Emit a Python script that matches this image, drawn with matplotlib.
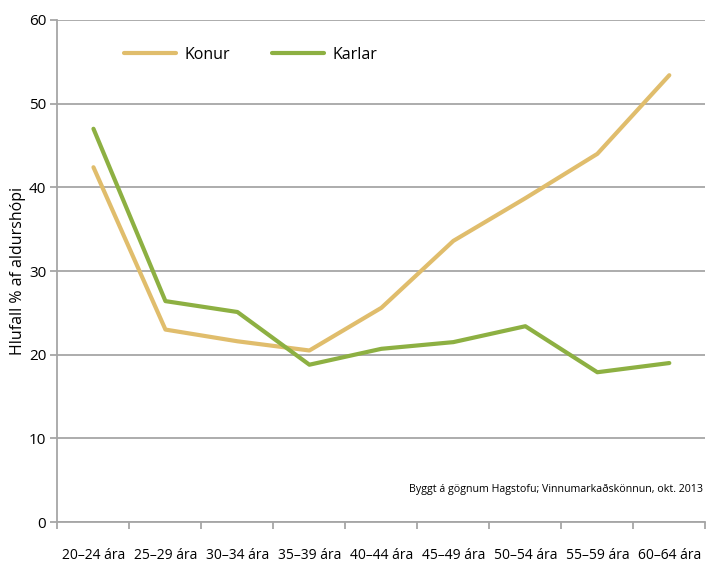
import matplotlib.pyplot as plt
import numpy as np

plt.rcParams['font.family'] = ['Open Sans', 'DejaVu Sans']

categories = ['20–24 ára', '25–29 ára', '30–34 ára', '35–39 ára', '40–44 ára',
              '45–49 ára', '50–54 ára', '55–59 ára', '60–64 ára']
konur = [42.4, 23.0, 21.6, 20.5, 25.6, 33.6, 38.7, 44.0, 53.4]
karlar = [47.0, 26.4, 25.1, 18.8, 20.7, 21.5, 23.4, 17.9, 19.0]

grid_col = '#a6a6a6'
fig = plt.figure(figsize=(7.06, 5.63), dpi=100)
ax = fig.add_axes([0.0814, 0.0728, 0.9176, 0.8917])

x = np.arange(len(categories))
ax.plot(x, konur, color='#e0bd6c', lw=3, solid_capstyle='round', label='Konur')
ax.plot(x, karlar, color='#8db042', lw=3, solid_capstyle='round', label='Karlar')

ax.set_xlim(-0.5, len(categories) - 0.5)
ax.set_ylim(0, 60)
ax.set_yticks(range(0, 61, 10))
ax.yaxis.grid(True, color=grid_col, lw=1.3)
ax.set_axisbelow(True)

ax.set_xticks(np.arange(-0.5, len(categories), 1))
ax.set_xticklabels([])
ax.set_xticks(x, minor=True)
ax.set_xticklabels(categories, minor=True)
ax.tick_params(axis='x', which='major', length=5, color=grid_col, width=1.3)
ax.tick_params(axis='x', which='minor', length=0, pad=19, labelsize=10)
ax.tick_params(axis='y', length=5, color=grid_col, width=1.3, labelsize=11, pad=3)

for s in ['top', 'right']:
    ax.spines[s].set_visible(False)
for s in ['left', 'bottom']:
    ax.spines[s].set_color(grid_col)
    ax.spines[s].set_linewidth(1.3)

ax.set_ylabel('Hlufall % af aldurshópi', fontsize=11.5)
ax.yaxis.set_label_coords(-0.048, 0.5)

ax.legend(loc='upper left', bbox_to_anchor=(0.08, 0.975), ncol=2, frameon=False,
          fontsize=11.5, handlelength=3.3, columnspacing=2.6, handletextpad=0.5)

ax.text(0.997, 0.064, 'Byggt á gögnum Hagstofu; Vinnumarkaðskönnun, okt. 2013',
        transform=ax.transAxes, ha='right', va='center', fontsize=7.7)

fig.savefig('out.png', dpi=100)
